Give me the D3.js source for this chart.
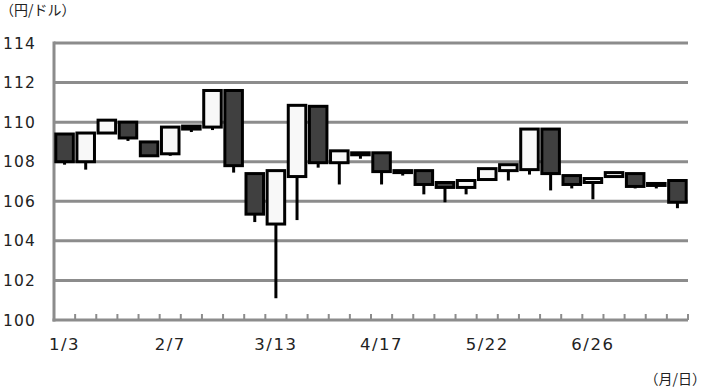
<!DOCTYPE html>
<html>
<head>
<meta charset="utf-8">
<script src="https://cdn.jsdelivr.net/npm/d3@7"></script>
<style>
  body { margin: 0; background: #fff; }
  text { font-family: "DejaVu Sans", Verdana, sans-serif; fill: #222; }
</style>
</head>
<body>
<div id="chart"></div>
<script>
// weekly USD/JPY
const dates = ["1/3", "1/10", "1/17", "1/24", "1/31", "2/7", "2/14", "2/21", "2/28", "3/6",
    "3/13", "3/20", "3/27", "4/3", "4/10", "4/17", "4/24", "5/1", "5/8", "5/15",
    "5/22", "5/29", "6/5", "6/12", "6/19", "6/26", "7/3", "7/10", "7/17", "7/24"];
const opens = [109.4, 108.0, 109.45, 110.0, 109.0, 108.4, 109.65, 109.75, 111.6, 107.4,
    104.85, 107.25, 110.8, 107.95, 108.45, 108.45, 107.55, 107.55, 106.95, 106.7,
    107.1, 107.55, 107.6, 109.65, 107.3, 106.95, 107.25, 107.4, 106.9, 107.05];
const closes = [108.0, 109.45, 110.1, 109.2, 108.3, 109.75, 109.8, 111.6, 107.8, 105.35,
    107.55, 110.85, 107.95, 108.55, 108.35, 107.5, 107.45, 106.85, 106.7, 107.05,
    107.65, 107.85, 109.65, 107.4, 106.85, 107.15, 107.45, 106.75, 106.8, 105.95];
const lows = [107.85, 107.6, 109.4, 109.05, 108.3, 108.3, 109.5, 109.6, 107.45, 104.95,
    101.1, 105.05, 107.7, 106.85, 108.15, 106.85, 107.3, 106.35, 105.95, 106.35,
    107.05, 107.05, 107.35, 106.55, 106.65, 106.1, 107.2, 106.65, 106.65, 105.65];
const yTicks = [100, 102, 104, 106, 108, 110, 112, 114];
const xLabels = ["1/3", "2/7", "3/13", "4/17", "5/22", "6/26"];

const width = 706, height = 388;
const m = { left: 54, right: 688, top: 43, bottom: 320 };

const svg = d3.select("#chart").append("svg")
    .attr("width", width)
    .attr("height", height);

const x = d3.scaleBand()
    .domain(dates)
    .range([m.left, m.right])
    .paddingInner(0.17)
    .paddingOuter(0.085);

const y = d3.scaleLinear()
    .domain([100, 114])
    .range([m.bottom, m.top]);

const step = x.step();

// gridlines
svg.append("g")
    .selectAll("line")
    .data(yTicks.filter(d => d > 100))
    .enter().append("line")
    .attr("x1", m.left)
    .attr("x2", m.right)
    .attr("y1", d => y(d))
    .attr("y2", d => y(d))
    .attr("stroke", "#8c8c8c")
    .attr("stroke-width", 3);

// y labels
svg.append("g")
    .selectAll("text")
    .data(yTicks)
    .enter().append("text")
    .attr("x", 3)
    .attr("y", d => y(d))
    .attr("dy", "0.36em")
    .style("font-size", "15.5px")
    .style("letter-spacing", "1.2px")
    .text(d => d);

// axes
svg.append("line")
    .attr("x1", m.left).attr("x2", m.left)
    .attr("y1", m.top - 1.5).attr("y2", m.bottom + 1.5)
    .attr("stroke", "#8c8c8c").attr("stroke-width", 3);
svg.append("line")
    .attr("x1", m.left - 1.5).attr("x2", m.right)
    .attr("y1", m.bottom).attr("y2", m.bottom)
    .attr("stroke", "#8c8c8c").attr("stroke-width", 3);

svg.append("g")
    .selectAll("line")
    .data(dates.slice(1).concat(["end"]))
    .enter().append("line")
    .attr("x1", (d, i) => m.left + (i + 1) * step)
    .attr("x2", (d, i) => m.left + (i + 1) * step)
    .attr("y1", m.bottom)
    .attr("y2", m.bottom - 6)
    .attr("stroke", "#8c8c8c")
    .attr("stroke-width", 2);

// x labels
svg.append("g")
    .selectAll("text")
    .data(xLabels)
    .enter().append("text")
    .attr("x", d => x(d) + x.bandwidth() / 2)
    .attr("y", 350)
    .attr("text-anchor", "middle")
    .style("font-size", "16.5px")
    .style("letter-spacing", "1.5px")
    .text(d => d);

const candles = dates.map((d, i) => ({ date: d, open: opens[i], close: closes[i], low: lows[i] }));

// wicks
svg.append("g")
    .selectAll("line")
    .data(candles)
    .enter().append("line")
    .attr("x1", d => x(d.date) + x.bandwidth() / 2)
    .attr("x2", d => x(d.date) + x.bandwidth() / 2)
    .attr("y1", d => y(d.low))
    .attr("y2", d => y(Math.min(d.open, d.close)))
    .attr("stroke", "#000")
    .attr("stroke-width", 3);

// bodies
svg.append("g")
    .selectAll("rect")
    .data(candles)
    .enter().append("rect")
    .attr("x", d => x(d.date))
    .attr("width", x.bandwidth())
    .attr("y", d => y(Math.max(d.open, d.close)))
    .attr("height", d => Math.abs(y(d.open) - y(d.close)))
    .attr("fill", d => d.close >= d.open ? "#f8f8f8" : "#404040")
    .attr("stroke", "#000")
    .attr("stroke-width", 3);

svg.append("text")
    .attr("x", 0)
    .attr("y", 15)
    .style("font-size", "14px")
    .style("font-family", "'Noto Sans CJK JP', sans-serif")
    .text("（円/ドル）");

svg.append("text")
    .attr("x", 706)
    .attr("y", 384)
    .attr("text-anchor", "end")
    .style("font-size", "14px")
    .style("font-family", "'Noto Sans CJK JP', sans-serif")
    .text("（月/日）");
</script>
</body>
</html>
